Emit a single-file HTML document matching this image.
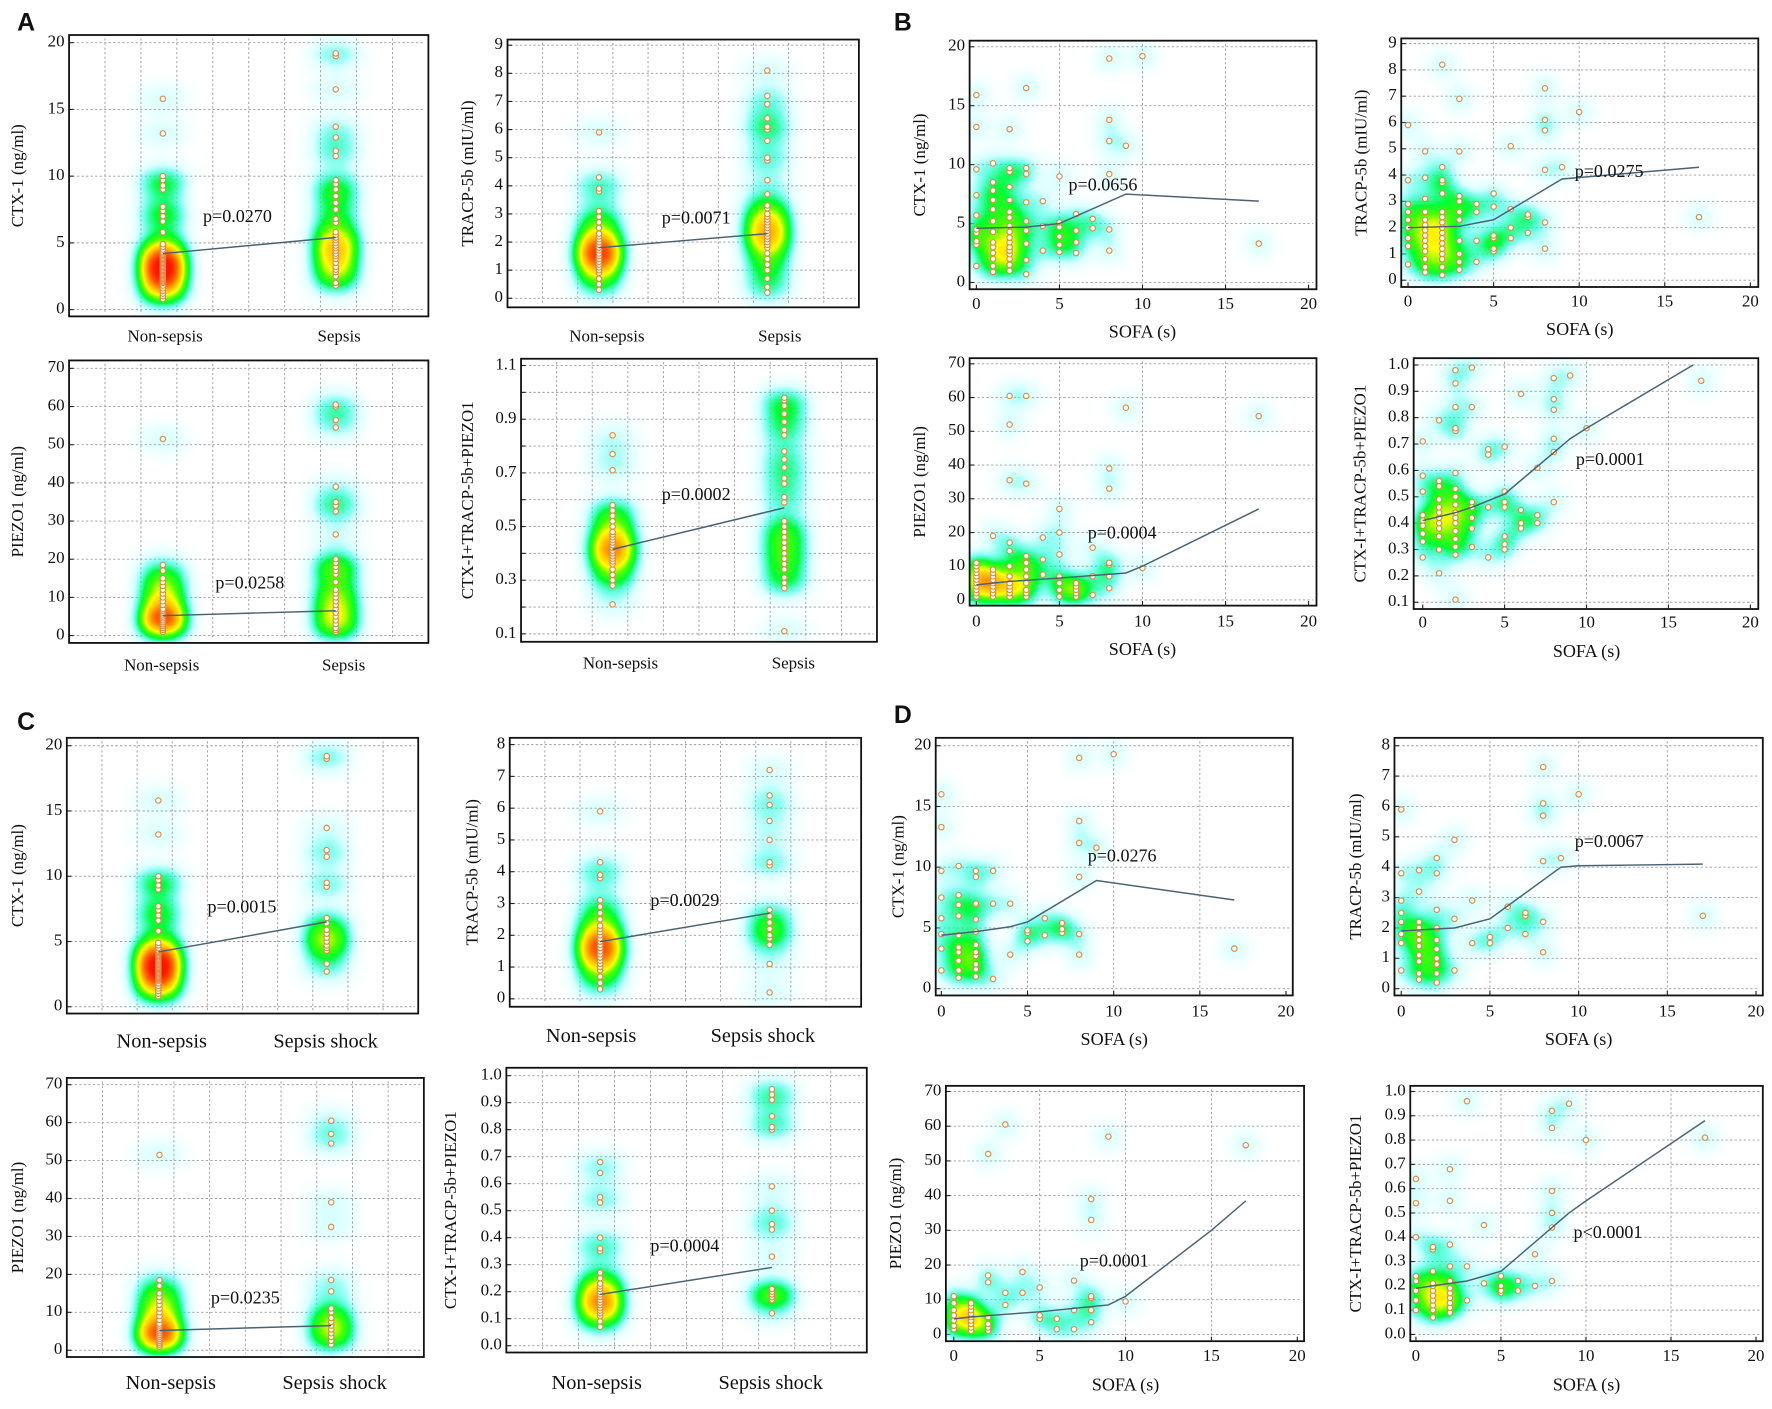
<!DOCTYPE html>
<html><head><meta charset="utf-8">
<style>
html,body{margin:0;padding:0;background:#fff;}
svg{display:block;}
text{font-family:"Liberation Serif",serif;fill:#111;}
.lt{font-family:"Liberation Sans",sans-serif;font-weight:bold;font-size:22px;}
</style></head>
<body>
<svg id="fig" xmlns="http://www.w3.org/2000/svg" width="1772" height="1409" viewBox="0 0 1568 1247">
<defs>
<filter id="heat" filterUnits="userSpaceOnUse" x="0" y="0" width="1568" height="1247" color-interpolation-filters="sRGB">
<feGaussianBlur stdDeviation="8"/>
<feColorMatrix type="matrix" values="0 0 0 1 0 0 0 0 1 0 0 0 0 1 0 0 0 0 1 0"/>
<feComponentTransfer>
<feFuncR type="table" tableValues="0 0 0 0 0.3 1 1 1 1 1 1"/>
<feFuncG type="table" tableValues="1 1 1 1 1 1 0.75 0.4 0.1 0 0"/>
<feFuncB type="table" tableValues="1 1 0.8 0.2 0 0 0 0 0 0 0"/>
<feFuncA type="table" tableValues="0 0.15 0.6 1 1 1 1 1 1 1 1"/>
</feComponentTransfer>
</filter>
</defs>
<text class="lt" x="15" y="27">A</text>
<text class="lt" x="791" y="27">B</text>
<text class="lt" x="15" y="646">C</text>
<text class="lt" x="791" y="640">D</text>
</svg>
<script>
// ---------- category data ----------
const catNames = ['Non-sepsis','Sepsis'];
const catNamesShock = ['Non-sepsis','Sepsis shock'];
const ctxNon = [0.8,1.0,1.2,1.4,1.6,1.8,2.0,2.1,2.2,2.3,2.4,2.5,2.6,2.7,2.8,2.9,3.0,3.0,3.1,3.2,3.3,3.4,3.5,3.6,3.7,3.8,3.9,4.0,4.1,4.2,4.3,4.5,4.7,4.9,5.8,6.6,7.0,7.4,7.7,9.0,9.3,9.7,10.0,13.2,15.8];
const ctxSep = [1.8,2.0,2.5,2.8,3.0,3.2,3.5,3.8,4.0,4.2,4.4,4.6,4.8,5.0,5.2,5.4,5.6,5.8,6.5,6.8,7.5,8.0,8.5,9.0,9.4,9.7,11.5,11.9,12.9,13.7,16.5,19.0,19.2];
const ctxShock = [2.7,3.3,4.3,4.5,4.7,5.0,5.3,5.6,5.9,6.4,6.8,9.2,9.5,11.5,12.0,13.7,19.0,19.2];
const trNon = [0.3,0.5,0.7,0.9,1.0,1.1,1.2,1.3,1.3,1.4,1.4,1.5,1.5,1.6,1.6,1.7,1.7,1.8,1.8,1.9,2.0,2.0,2.1,2.2,2.3,2.5,2.7,2.9,3.1,3.8,3.9,4.3,5.9];
const trSep = [0.2,0.4,0.7,1.0,1.2,1.4,1.6,1.8,1.9,2.0,2.1,2.2,2.2,2.3,2.4,2.5,2.6,2.7,2.8,2.9,3.0,3.2,3.3,3.7,4.2,4.9,5.0,5.6,6.0,6.1,6.4,6.9,7.2,8.1];
const trShock = [0.2,1.1,1.7,1.9,2.0,2.2,2.4,2.6,2.8,4.2,4.3,5.0,5.6,6.1,6.4,7.2];
const pzNon = [1,1.5,2,2.5,3,3,3.5,4,4,4.5,5,5,5.5,6,6.5,7,8,9,10,11,12,13,14,15,17,18.5,51.5];
const pzSep = [1,1.5,2,3,4,5,6,7,8,9,10,11,12,14,16,17,18,19,20,26.5,32.5,34,35,39,54.5,56.5,60,60.5];
const pzShock = [1.5,2.5,3.5,4.5,5.5,6.5,7.5,8.5,10,11,15.5,18.5,32.5,39,54.5,57,60.5];
const cbNon = [0.21,0.28,0.30,0.32,0.34,0.36,0.37,0.38,0.39,0.40,0.40,0.41,0.42,0.42,0.43,0.44,0.45,0.46,0.47,0.48,0.50,0.52,0.54,0.56,0.58,0.71,0.77,0.84];
const cbSep = [0.11,0.27,0.29,0.31,0.34,0.36,0.38,0.40,0.42,0.44,0.46,0.48,0.50,0.52,0.59,0.61,0.66,0.68,0.72,0.75,0.78,0.84,0.86,0.89,0.92,0.95,0.97,0.98];
const cbNonC = [0.07,0.09,0.11,0.12,0.13,0.14,0.15,0.15,0.16,0.16,0.17,0.18,0.19,0.20,0.21,0.22,0.23,0.25,0.27,0.35,0.36,0.40,0.53,0.55,0.64,0.68];
const cbShock = [0.12,0.17,0.18,0.19,0.20,0.21,0.33,0.43,0.45,0.50,0.59,0.80,0.81,0.85,0.91,0.93,0.95];
const trendA1 = [4.2,5.4], trendA2 = [1.8,2.3], trendA3 = [5.2,6.5], trendA4 = [0.415,0.57];
const trendC1 = [4.2,6.5], trendC2 = [1.8,2.7], trendC3 = [5.2,6.5], trendC4 = [0.19,0.29];

// ---------- SOFA scatter data ----------
const sofaLevels = [0,1,2,3,4,5,6,7,8,9,10,17];
const b1Vals = [[1.4,3.2,3.5,4.2,4.5,5.7,7.4,9.6,13.2,15.9],[0.9,1.4,2.0,2.5,3.0,3.4,4.3,5.2,6.2,7.0,7.8,8.5,10.1],[1.0,1.5,2.0,2.4,2.7,3.0,3.4,3.8,4.3,4.8,5.5,6.0,7.0,8.1,9.4,9.7,13.0],[0.7,1.9,3.3,4.4,5.2,6.8,9.2,9.7,16.5],[2.7,4.8,6.9],[2.6,3.2,3.9,4.7,5.1,9.0],[2.5,3.4,4.4,5.8],[4.6,5.4],[2.7,4.5,9.2,12.0,13.8,19.0],[11.6],[19.2],[3.3]];
const b2Vals = [[0.6,1.3,1.6,2.0,2.3,2.6,2.9,3.8,5.9],[0.3,0.5,0.8,1.1,1.3,1.5,1.7,1.9,2.1,2.3,2.6,3.1,3.9,4.9],[0.2,0.5,0.8,1.0,1.2,1.4,1.6,1.8,2.0,2.2,2.4,2.6,3.3,3.7,3.8,4.3,8.2],[0.4,0.7,1.0,1.5,2.3,2.6,3.0,3.2,4.9,6.9],[0.7,1.5,2.6,2.9],[1.1,1.2,1.6,1.7,2.8,3.3],[1.6,2.0,2.7,5.1],[1.8,2.4,2.5],[1.2,2.2,4.2,5.7,6.1,7.3],[4.3],[6.4],[2.4]];
const b3Vals = [[1,2,3,4,5,6,7,8,9,10,11],[1,2,3,4,5,6,7,8,9,19],[1,2,3,4,5,7,10,14.5,17,35.5,52,60.5],[1,2,3,5,7,9,11,13,34.5,60.5],[7.5,12,18.5],[1,3,5,7,13.5,20,27],[1,2,3,4,5],[1.5,7,15.5],[3.5,7,10.5,11,33,39],[57],[9.5],[54.5]];
const b4Vals = [[0.27,0.33,0.36,0.39,0.41,0.43,0.52,0.58,0.71],[0.21,0.30,0.35,0.38,0.40,0.42,0.44,0.46,0.49,0.54,0.56,0.79],[0.11,0.28,0.31,0.34,0.37,0.40,0.42,0.44,0.47,0.50,0.53,0.59,0.75,0.76,0.84,0.93,0.98],[0.31,0.38,0.42,0.46,0.48,0.84,0.99],[0.27,0.46,0.66,0.68],[0.30,0.32,0.35,0.46,0.48,0.52,0.69],[0.38,0.40,0.45,0.89],[0.40,0.43,0.61],[0.48,0.67,0.72,0.83,0.87,0.95],[0.96],[0.76],[0.94]];
const d1Vals = [[1.5,3.3,4.5,5.8,7.5,9.7,13.3,16],[0.9,1.5,2.3,3.0,3.4,4.4,6.0,6.9,7.7,10.1],[1.0,1.6,2.0,2.7,3.0,3.6,4.7,5.7,6.9,7.0,9.2,9.7],[0.8,7.0,9.7],[2.8,7.0],[3.9,4.6,4.8],[4.4,5.8],[4.6,5.4,4.9],[2.8,4.5,9.2,12,13.8,19],[11.6],[19.3],[3.3]];
const d2Vals = [[0.6,1.5,1.8,2.2,2.5,2.9,3.8,5.9],[0.3,0.5,0.9,1.1,1.4,1.6,1.8,2.0,2.2,3.2,3.9],[0.2,0.5,0.8,1.0,1.3,1.6,2.0,2.6,3.8,4.3],[0.6,2.3,4.9],[1.5,2.9],[1.5,1.7],[2.0,2.7],[1.8,2.4,2.5],[1.2,2.2,4.2,5.7,6.1,7.3],[4.3],[6.4],[2.4]];
const d3Vals = [[1.5,2.5,4,5.5,7,9,11],[1,2,3,4,5,6,7,8,9],[1,2,3,5,15,17,52],[8.5,12,60.5],[12,18],[4.5,5.5,13.5],[1.5,4.5],[1.5,7,15.5],[3.5,7,10.5,11,33,39],[57],[9.5],[54.5]];
const d4Vals = [[0.10,0.14,0.18,0.22,0.24,0.40,0.54,0.64],[0.07,0.10,0.12,0.14,0.16,0.18,0.20,0.21,0.26,0.35,0.36],[0.09,0.11,0.13,0.15,0.17,0.19,0.22,0.28,0.37,0.55,0.68],[0.14,0.28,0.96],[0.21,0.45],[0.17,0.18,0.20,0.24],[0.18,0.22],[0.20,0.33],[0.22,0.44,0.50,0.59,0.85,0.92],[0.95],[0.80],[0.81]];
const b1TrendX = [0,3,5,9,17], b1TrendY = [4.6,4.7,5.0,7.5,6.9];
const b2TrendX = [0,3,5,9,17], b2TrendY = [2.0,2.05,2.3,3.85,4.3];
const b3TrendX = [0,2,5,9,10,17], b3TrendY = [4.5,5.5,6.5,8,10,27];
const b4TrendX = [0,2,3,5,9,10,16.5], b4TrendY = [0.41,0.44,0.46,0.51,0.72,0.76,1.0];
const d1TrendX = [0,2,4,5,9,17], d1TrendY = [4.4,4.7,5.1,5.5,8.9,7.3];
const d2TrendX = [0,3,5,9,10,17], d2TrendY = [1.9,2.0,2.3,4.0,4.05,4.1];
const d3TrendX = [0,1,3,5,8,9,10,15,17], d3TrendY = [4.5,5,5.8,6.5,8,8.5,11,30,38.5];
const d4TrendX = [0,2,3,5,8,9,10,17], d4TrendY = [0.19,0.21,0.22,0.26,0.44,0.5,0.55,0.88];
const sofaTicks = [0,5,10,15,20];

const NS = 'http://www.w3.org/2000/svg';
const svg = document.getElementById('fig');
function mk(tag, parent){ const e = document.createElementNS(NS, tag); parent.appendChild(e); return e; }
function range(a,b,s){ const r=[]; for(let v=a; v<=b+1e-9; v+=s) r.push(Math.round(v*100)/100); return r; }
let clipN = 0;

function frame(name, box, yS, yGrid, yTicks, yFmt, xGridPx){
  const g = mk('g', svg);
  
  
  const [x0,y0,x1,y1] = box;
  xGridPx.forEach(px => {
    const l = mk('line', g);
    
    
    l.setAttribute('x1',px); l.setAttribute('x2',px); l.setAttribute('y1',y0+3); l.setAttribute('y2',y1-3);
    l.setAttribute('stroke','#9a9a9a'); l.setAttribute('stroke-width','0.8'); l.setAttribute('stroke-dasharray','2 2');
  });
  yGrid.forEach(v => {
    const l = mk('line', g);
    
    
    l.setAttribute('x1',x0+3); l.setAttribute('x2',x1-3); l.setAttribute('y1',yS(v)); l.setAttribute('y2',yS(v));
    l.setAttribute('stroke','#9a9a9a'); l.setAttribute('stroke-width','0.8'); l.setAttribute('stroke-dasharray','2 2');
    const t = mk('line', g);
    
    
    t.setAttribute('x1',x0); t.setAttribute('x2',x0+4); t.setAttribute('y1',yS(v)); t.setAttribute('y2',yS(v));
    t.setAttribute('stroke','#222'); t.setAttribute('stroke-width','1');
  });
  yTicks.forEach(v => {
    const t = mk('text', g);
    
    
    t.setAttribute('x', x0-4); t.setAttribute('y', yS(v)); t.setAttribute('text-anchor','end');
    t.setAttribute('dominant-baseline','middle'); t.setAttribute('font-size','15');
    t.textContent = yFmt(v);
  });
  const cp = mk('clipPath', svg); const cid = 'cp'+(clipN++); cp.setAttribute('id', cid);
  const cr = mk('rect', cp); cr.setAttribute('x',x0); cr.setAttribute('y',y0); cr.setAttribute('width',x1-x0); cr.setAttribute('height',y1-y0);
  const heat = mk('g', g);
  
  
  heat.setAttribute('clip-path','url(#'+cid+')');
  const heatInner = mk('g', heat);
  heatInner.setAttribute('filter','url(#heat)');
  const r = mk('rect', g);
  
  
  r.setAttribute('x',x0); r.setAttribute('y',y0); r.setAttribute('width',x1-x0); r.setAttribute('height',y1-y0);
  r.setAttribute('fill','none'); r.setAttribute('stroke','#111'); r.setAttribute('stroke-width','1.6');
  return {g, heatInner};
}
function addText(g, name, x, y, s, size, anchor, rot){
  const t = mk('text', g);
  
  
  t.setAttribute('x',x); t.setAttribute('y',y); t.setAttribute('font-size',size);
  t.setAttribute('text-anchor',anchor||'middle'); t.setAttribute('dominant-baseline','middle');
  if(rot) t.setAttribute('transform','rotate(-90 '+x+' '+y+')');
  t.textContent = s;
}
function dot(g, x, y){
  const c = mk('circle', g);
  
  
  c.setAttribute('cx',x); c.setAttribute('cy',y); c.setAttribute('r','2.4');
  c.setAttribute('fill','#fff'); c.setAttribute('stroke','#dc8a44'); c.setAttribute('stroke-width','1');
}
function trend(g, pts){
  const p = mk('polyline', g);
  
  
  p.setAttribute('points', pts.map(q=>q[0].toFixed(1)+','+q[1].toFixed(1)).join(' '));
  p.setAttribute('fill','none'); p.setAttribute('stroke','#4a6272'); p.setAttribute('stroke-width','1.3');
}

function catPanel(name, L, groups, names, trendVals){
  const yS = v => L.yb + (v-L.ymin)/(L.ymax-L.ymin)*(L.yt-L.yb);
  const n = 10, xg = [];
  for(let i=1;i<n;i++) xg.push(L.box[0] + (L.box[2]-L.box[0])*i/n);
  const f = frame(name, L.box, yS, L.grid, L.ticks, L.fmt, xg);
  groups.forEach((vals, gi) => {
    vals.forEach(v => {
      const e = mk('ellipse', f.heatInner);
      e.setAttribute('cx', L.cats[gi]); e.setAttribute('cy', yS(v)); e.setAttribute('rx','22'); e.setAttribute('ry','10');
      e.setAttribute('fill','#000'); e.setAttribute('fill-opacity','0.12');
    });
  });
  groups.forEach((vals, gi) => vals.forEach(v => dot(f.g, L.cats[gi], yS(v))));
  trend(f.g, trendVals.map((v,i)=>[L.cats[i], yS(v)]));
  names.forEach((s,i)=>addText(f.g, 'category-label', L.labX[i], L.labY, s, L.labSize||15));
  addText(f.g, 'y-axis-title', L.ylx, (L.box[1]+L.box[3])/2, L.ylabel, 15, 'middle', true);
  addText(f.g, 'p-value', L.p[0], L.p[1], L.ptext, 16);
}

function sofaPanel(name, L, vals, tx, ty){
  const yS = v => L.yb + (v-L.ymin)/(L.ymax-L.ymin)*(L.yt-L.yb);
  const xS = v => L.x0 + v/20*(L.x20-L.x0);
  const f = frame(name, L.box, yS, L.grid, L.ticks, L.fmt, sofaTicks.slice(1,4).map(xS));
  sofaTicks.forEach(v => {
    const t = mk('line', f.g);
    
    
    t.setAttribute('x1',xS(v)); t.setAttribute('x2',xS(v)); t.setAttribute('y1',L.box[3]); t.setAttribute('y2',L.box[3]-4);
    t.setAttribute('stroke','#222');
    addText(f.g, 'x-tick-label', xS(v), L.tlY, String(v), 15);
  });
  vals.forEach((arr, i) => arr.forEach(v => {
    const c = mk('circle', f.heatInner);
    c.setAttribute('cx', xS(sofaLevels[i])); c.setAttribute('cy', yS(v)); c.setAttribute('r','9');
    c.setAttribute('fill','#000'); c.setAttribute('fill-opacity','0.2');
  }));
  vals.forEach((arr, i) => arr.forEach(v => dot(f.g, xS(sofaLevels[i]), yS(v))));
  trend(f.g, tx.map((x,i)=>[xS(x), yS(ty[i])]));
  addText(f.g, 'x-axis-title', L.sx, L.sy, 'SOFA (s)', 16);
  addText(f.g, 'y-axis-title', L.ylx, (L.box[1]+L.box[3])/2, L.ylabel, 15, 'middle', true);
  addText(f.g, 'p-value', L.p[0], L.p[1], L.ptext, 16);
}

const int = v => String(v), one = v => v.toFixed(1);

// Panel A
catPanel('panel-a-ctx', {box:[61,31,379,280], ymin:0, ymax:20, yb:274, yt:37.8, grid:range(0,20,5), ticks:range(0,20,5), fmt:int, cats:[144,297], labX:[146,300], labY:299, ylx:17, ylabel:'CTX-1 (ng/ml)', p:[210,193], ptext:'p=0.0270'}, [ctxNon, ctxSep], catNames, trendA1);
catPanel('panel-a-tracp', {box:[449,35,760,272], ymin:0, ymax:9, yb:264, yt:40, grid:range(0,9,1), ticks:range(0,9,1), fmt:int, cats:[530,679], labX:[537,690], labY:299, ylx:415, ylabel:'TRACP-5b (mIU/ml)', p:[616,194], ptext:'p=0.0071'}, [trNon, trSep], catNames, trendA2);
catPanel('panel-a-piezo', {box:[61,319,379,569], ymin:0, ymax:70, yb:562.5, yt:326, grid:range(0,70,10), ticks:range(0,70,10), fmt:int, cats:[144,297], labX:[143,304], labY:590, ylx:17, ylabel:'PIEZO1 (ng/ml)', p:[221,517], ptext:'p=0.0258'}, [pzNon, pzSep], catNames, trendA3);
catPanel('panel-a-combined', {box:[461,317.5,776,568], ymin:0.1, ymax:1.1, yb:561, yt:323.5, grid:range(0.1,1.1,0.1), ticks:[0.1,0.3,0.5,0.7,0.9,1.1], fmt:one, cats:[542,694], labX:[549,702], labY:588, ylx:415, ylabel:'CTX-I+TRACP-5b+PIEZO1', p:[616,439], ptext:'p=0.0002'}, [cbNon, cbSep], catNames, trendA4);

// Panel C
catPanel('panel-c-ctx', {box:[59,653,370,897], ymin:0, ymax:20, yb:891, yt:660, grid:range(0,20,5), ticks:range(0,20,5), fmt:int, cats:[140,289], labX:[143,288], labY:923, labSize:18, ylx:17, ylabel:'CTX-1 (ng/ml)', p:[214,804], ptext:'p=0.0015'}, [ctxNon, ctxShock], catNamesShock, trendC1);
catPanel('panel-c-tracp', {box:[451,653,762,891], ymin:0, ymax:8, yb:884, yt:659, grid:range(0,8,1), ticks:range(0,8,1), fmt:int, cats:[531,681], labX:[523,675], labY:918, labSize:18, ylx:419, ylabel:'TRACP-5b (mIU/ml)', p:[606,798], ptext:'p=0.0029'}, [trNon, trShock], catNamesShock, trendC2);
catPanel('panel-c-piezo', {box:[59,954,375,1201], ymin:0, ymax:70, yb:1195, yt:960, grid:range(0,70,10), ticks:range(0,70,10), fmt:int, cats:[141,293], labX:[151,296], labY:1225, labSize:18, ylx:17, ylabel:'PIEZO1 (ng/ml)', p:[217,1150], ptext:'p=0.0235'}, [pzNon, pzShock], catNamesShock, trendC3);
catPanel('panel-c-combined', {box:[448,945,767,1197], ymin:0, ymax:1, yb:1191, yt:952, grid:range(0,1,0.1), ticks:range(0,1,0.1), fmt:one, cats:[531,683], labX:[528,682], labY:1225, labSize:18, ylx:400, ylabel:'CTX-I+TRACP-5b+PIEZO1', p:[606,1104], ptext:'p=0.0004'}, [cbNonC, cbShock], catNamesShock, trendC4);

// Panel B
sofaPanel('panel-b-ctx', {box:[858,36,1165,256], x0:864, x20:1158, ymin:0, ymax:20, yb:250, yt:41.4, grid:range(0,20,5), ticks:range(0,20,5), fmt:int, tlY:270, sx:1011, sy:295, ylx:815, ylabel:'CTX-1 (ng/ml)', p:[976,165], ptext:'p=0.0656'}, b1Vals, b1TrendX, b1TrendY);
sofaPanel('panel-b-tracp', {box:[1240,34,1556,254], x0:1246, x20:1549, ymin:0, ymax:9, yb:248, yt:38.6, grid:range(0,9,1), ticks:range(0,9,1), fmt:int, tlY:268, sx:1398, sy:293, ylx:1206, ylabel:'TRACP-5b (mIU/ml)', p:[1424,153], ptext:'p=0.0275'}, b2Vals, b2TrendX, b2TrendY);
sofaPanel('panel-b-piezo', {box:[858,317,1165,536], x0:864, x20:1158, ymin:0, ymax:70, yb:531, yt:322, grid:range(0,70,10), ticks:range(0,70,10), fmt:int, tlY:551, sx:1011, sy:576, ylx:815, ylabel:'PIEZO1 (ng/ml)', p:[993,473], ptext:'p=0.0004'}, b3Vals, b3TrendX, b3TrendY);
sofaPanel('panel-b-combined', {box:[1251,317,1556,539], x0:1259, x20:1549, ymin:0.1, ymax:1.0, yb:533, yt:323, grid:range(0.1,1.0,0.1), ticks:range(0.1,1.0,0.1), fmt:one, tlY:552, sx:1404, sy:578, ylx:1205, ylabel:'CTX-I+TRACP-5b+PIEZO1', p:[1425,408], ptext:'p=0.0001'}, b4Vals, b4TrendX, b4TrendY);

// Panel D
sofaPanel('panel-d-ctx', {box:[828,653,1144,881], x0:833, x20:1138, ymin:0, ymax:20, yb:875, yt:660, grid:range(0,20,5), ticks:range(0,20,5), fmt:int, tlY:896, sx:986, sy:921, ylx:796, ylabel:'CTX-1 (ng/ml)', p:[993,759], ptext:'p=0.0276'}, d1Vals, d1TrendX, d1TrendY);
sofaPanel('panel-d-tracp', {box:[1234,653,1560,881], x0:1240, x20:1554, ymin:0, ymax:8, yb:875, yt:660, grid:range(0,8,1), ticks:range(0,8,1), fmt:int, tlY:896, sx:1397, sy:921, ylx:1201, ylabel:'TRACP-5b (mIU/ml)', p:[1424,746], ptext:'p=0.0067'}, d2Vals, d2TrendX, d2TrendY);
sofaPanel('panel-d-piezo', {box:[837,961,1154,1187], x0:844, x20:1148, ymin:0, ymax:70, yb:1181, yt:966, grid:range(0,70,10), ticks:range(0,70,10), fmt:int, tlY:1201, sx:996, sy:1227, ylx:794, ylabel:'PIEZO1 (ng/ml)', p:[986,1117], ptext:'p=0.0001'}, d3Vals, d3TrendX, d3TrendY);
sofaPanel('panel-d-combined', {box:[1248,961,1560,1187], x0:1253, x20:1554, ymin:0, ymax:1.0, yb:1181, yt:966, grid:range(0,1,0.1), ticks:range(0,1,0.1), fmt:one, tlY:1201, sx:1404, sy:1227, ylx:1201, ylabel:'CTX-I+TRACP-5b+PIEZO1', p:[1423,1092], ptext:'p<0.0001'}, d4Vals, d4TrendX, d4TrendY);
</script>
</body></html>
